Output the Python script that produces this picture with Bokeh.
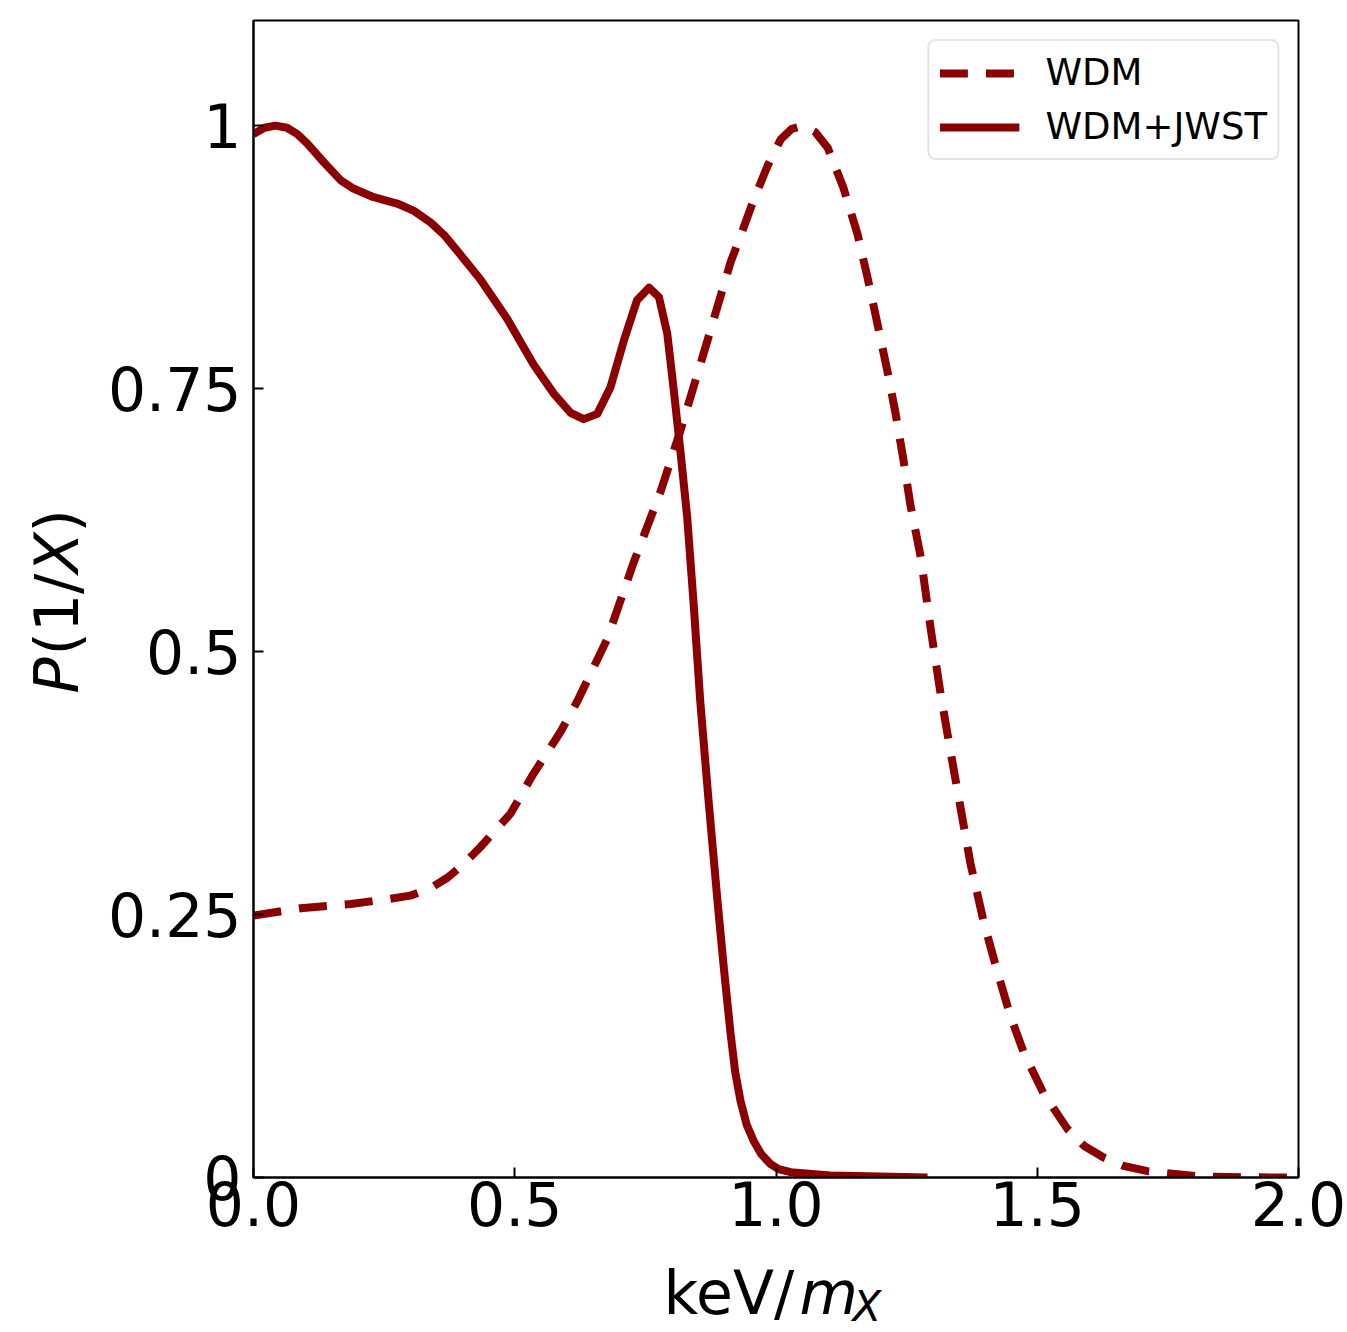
import math
from bokeh.plotting import figure
from bokeh.layouts import row, column
from bokeh.models import Range1d, FixedTicker, Legend, LegendItem
from bokeh.core.properties import value
from bokeh.embed import file_html
from bokeh.resources import INLINE

# ---------------- data ----------------
x_wdm = [0.0, 0.09, 0.186, 0.262, 0.30, 0.335, 0.371, 0.40, 0.434, 0.492, 0.536, 0.588,
         0.62, 0.677, 0.727, 0.779, 0.817, 0.869, 0.913, 0.938, 0.957, 0.984, 1.009,
         1.030, 1.052, 1.075, 1.099, 1.129, 1.156, 1.175, 1.194, 1.213, 1.229, 1.244,
         1.257, 1.277, 1.296, 1.315, 1.334, 1.353, 1.372, 1.397, 1.424, 1.449, 1.474,
         1.512, 1.558, 1.59, 1.627, 1.665, 1.711, 1.812, 1.9, 2.0]
y_wdm = [0.249, 0.256, 0.260, 0.265, 0.268, 0.274, 0.285, 0.297, 0.314, 0.346, 0.384, 0.424,
         0.453, 0.512, 0.584, 0.652, 0.710, 0.796, 0.870, 0.903, 0.929, 0.962, 0.987,
         0.997, 1.0, 0.994, 0.979, 0.941, 0.897, 0.856, 0.812, 0.767, 0.726, 0.682,
         0.640, 0.590, 0.522, 0.460, 0.405, 0.352, 0.299, 0.244, 0.195, 0.153, 0.119,
         0.080, 0.046, 0.030, 0.019, 0.011, 0.006, 0.001, 0.0002, 0.0]

x_jwst = [0.0, 0.021, 0.042, 0.064, 0.084, 0.103, 0.135, 0.167, 0.192, 0.230, 0.275, 0.307,
          0.339, 0.365, 0.390, 0.434, 0.486, 0.536, 0.575, 0.607, 0.632, 0.658, 0.683,
          0.709, 0.734, 0.757, 0.776, 0.792, 0.804, 0.817, 0.830, 0.842, 0.855, 0.871,
          0.888, 0.90, 0.913, 0.922, 0.932, 0.944, 0.957, 0.972, 0.989, 1.005, 1.028,
          1.104, 1.2, 1.29]
y_jwst = [0.992, 0.998, 1.0, 0.998, 0.992, 0.983, 0.965, 0.948, 0.940, 0.932, 0.926, 0.919,
          0.908, 0.896, 0.881, 0.854, 0.816, 0.773, 0.745, 0.727, 0.721, 0.726, 0.751,
          0.796, 0.834, 0.846, 0.837, 0.802, 0.750, 0.691, 0.628, 0.548, 0.453, 0.358,
          0.263, 0.2, 0.137, 0.100, 0.073, 0.050, 0.035, 0.022, 0.013, 0.008, 0.005,
          0.002, 0.001, 0.0]

x_ticks = [0.0, 0.5, 1.0, 1.5, 2.0]
x_tick_labels = ["0.0", "0.5", "1.0", "1.5", "2.0"]
y_ticks = [0.0, 0.25, 0.5, 0.75, 1.0]
y_tick_labels = ["0", "0.25", "0.5", "0.75", "1"]

series_labels = ["WDM", "WDM+JWST"]
COLOR = "#8b0000"
FONT = "DejaVu Sans"

# ---------------- layout (page pixels) ----------------
PAGE_W, PAGE_H = 1347, 1332
YL_W = 100                      # strip holding the y-axis label
MAIN_W = PAGE_W - YL_W
MAIN_H = 1250
XL_H = PAGE_H - MAIN_H          # strip holding the x-axis label
FRAME_L, FRAME_T, FRAME_W, FRAME_H = 253, 20, 1045, 1157
BORDER_L = FRAME_L - YL_W
BORDER_R = MAIN_W - BORDER_L - FRAME_W

p = figure(width=MAIN_W, height=MAIN_H,
           x_range=Range1d(0.0, 2.0), y_range=Range1d(0.0, 1.1),
           output_backend="svg", toolbar_location=None,
           min_border_left=BORDER_L, min_border_top=FRAME_T,
           min_border_right=BORDER_R,
           min_border_bottom=MAIN_H - FRAME_T - FRAME_H)
p.background_fill_color = "white"
p.border_fill_color = "white"
p.outline_line_color = "black"
p.outline_line_width = 2
p.grid.visible = False

for ax in (p.xaxis[0], p.yaxis[0]):
    ax.axis_line_width = 2
    ax.major_tick_line_width = 2
    ax.major_tick_in = 10
    ax.major_tick_out = 0
    ax.minor_tick_line_color = None
    ax.major_label_text_font = FONT
    ax.major_label_text_font_size = "60px"
    ax.major_label_text_color = "black"
p.yaxis.major_label_standoff = 12
p.xaxis.major_label_standoff = 3

p.xaxis.ticker = FixedTicker(ticks=x_ticks)
p.xaxis.major_label_overrides = dict(zip(x_ticks, x_tick_labels))
p.yaxis.ticker = FixedTicker(ticks=y_ticks)
p.yaxis.major_label_overrides = dict(zip(y_ticks, y_tick_labels))

r_wdm = p.line(x_wdm, y_wdm, line_color=COLOR, line_width=8, line_dash="28 18",
               line_join="round")
r_jw = p.line(x_jwst, y_jwst, line_color=COLOR, line_width=8, line_join="round")

legend = Legend(items=[LegendItem(label=series_labels[0], renderers=[r_wdm]),
                       LegendItem(label=series_labels[1], renderers=[r_jw])],
                location="top_right")
legend.margin = 19
legend.padding = 10
legend.spacing = 11
legend.glyph_width = 80
legend.glyph_height = 36
legend.label_height = 36
legend.label_standoff = 26
legend.label_text_font = FONT
legend.label_text_font_size = "37px"
legend.label_text_color = "black"
legend.border_line_color = "#cccccc"
legend.border_line_width = 2
legend.background_fill_color = "white"
legend.background_fill_alpha = 1.0
if "border_radius" in legend.properties():
    legend.border_radius = 8
p.add_layout(legend)


def strip(w, h, x_lo, x_hi, y_lo, y_hi, bl=0, br=0):
    # data coordinates of the strip are page pixels (y grows downwards)
    f = figure(width=w, height=h, x_range=Range1d(x_lo, x_hi),
               y_range=Range1d(y_hi, y_lo),
               output_backend="svg", toolbar_location=None,
               x_axis_type=None, y_axis_type=None, min_border=0,
               min_border_left=bl, min_border_right=br)
    f.outline_line_color = None
    f.grid.visible = False
    f.background_fill_color = "white"
    f.border_fill_color = "white"
    return f


MID = 0.346  # distance of the text-box middle above the baseline, in em


def put(f, text, px, py, size=60, style="normal", vertical=False):
    # px, py: page pixels of the start of the text baseline
    lift = MID * size
    if vertical:  # rotated 90 deg counter-clockwise: "up" of the glyphs points left
        gx, gy, angle = px - lift, py, math.pi / 2
    else:
        gx, gy, angle = px, py - lift, 0.0
    f.text(x=[gx], y=[gy], text=[text], text_font=value(FONT),
           text_font_size=f"{size}px", text_font_style=style, angle=angle,
           text_align="left", text_baseline="middle", text_color="black")


# x-axis label strip (its frame lines up with the main frame): keV/m_X
xl = strip(MAIN_W, XL_H, FRAME_L, FRAME_L + FRAME_W, MAIN_H, PAGE_H,
           bl=BORDER_L, br=BORDER_R)
put(xl, "keV/", 663, 1313)
put(xl, "m", 799, 1313, style="italic")
put(xl, "X", 852, 1321, size=42, style="italic")

# y-axis label strip: P(1/X), rotated
yl = strip(YL_W, PAGE_H, 0, YL_W, 0, PAGE_H)
put(yl, "P", 77, 693, style="italic", vertical=True)
put(yl, "(1/", 77, 655, vertical=True)
put(yl, "X", 77, 573, style="italic", vertical=True)
put(yl, ")", 77, 532, vertical=True)

layout = row(yl, column(p, xl, spacing=0), spacing=0)

open("out.html", "w").write(file_html(layout, INLINE))
